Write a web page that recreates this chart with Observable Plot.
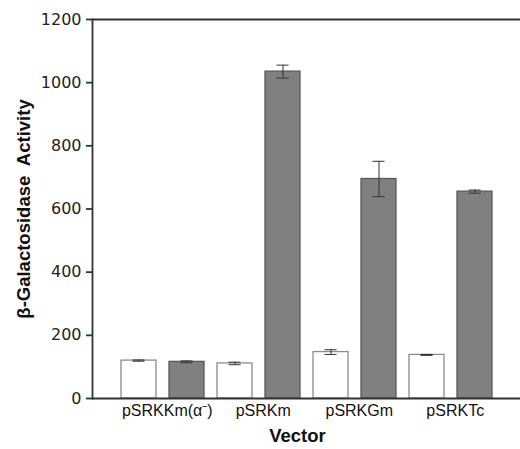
<!DOCTYPE html>
<html>
<head>
<meta charset="utf-8">
<script src="https://cdn.jsdelivr.net/npm/d3@7"></script>
<script src="https://cdn.jsdelivr.net/npm/@observablehq/plot@0.6"></script>
<style>
  html, body { margin: 0; padding: 0; background: #fff; }
  #chart svg { display: block; }
</style>
</head>
<body>
<div id="chart"></div>
<script>
// ---- data ----
const vectors = ["pSRKKm(α⁻)", "pSRKm", "pSRKGm", "pSRKTc"];
const seriesNames = ["open", "shaded"];
const openValues = [120, 111, 147, 138];
const openErrors = [2, 4, 7.5, 1.5];
const shadedValues = [116, 1035, 695, 655];
const shadedErrors = [3, 20.5, 56, 5];
const yTicks = [0, 200, 400, 600, 800, 1000, 1200];
const xTitle = "Vector";
const yTitle = "β-Galactosidase  Activity";

// ---- build table ----
const rows = [];
vectors.forEach((v, i) => {
  rows.push({vector: v, series: seriesNames[0], key: v + "|" + seriesNames[0], value: openValues[i], err: openErrors[i]});
  rows.push({vector: v, series: seriesNames[1], key: v + "|" + seriesNames[1], value: shadedValues[i], err: shadedErrors[i]});
});
const keys = rows.map(d => d.key);
const firstKeys = vectors.map(v => v + "|" + seriesNames[0]);

const W = 520, H = 449;
const mL = 92, mR = 0, mT = 19, mB = 51;
const pInner = 0.28, pOuter = 0.55;
const step = (W - mL - mR) / (keys.length - pInner + 2 * pOuter);
const bw = step * (1 - pInner);
const capInset = (bw - 12) / 2;

const chart = Plot.plot({
  width: W,
  height: H,
  marginLeft: mL,
  marginRight: mR,
  marginTop: mT,
  marginBottom: mB,
  style: {fontFamily: "'DejaVu Sans', sans-serif", fontSize: "15px", color: "#222", background: "#fff"},
  x: {domain: keys, paddingInner: pInner, paddingOuter: pOuter, axis: null},
  y: {domain: [0, 1200], axis: null},
  marks: [
    Plot.barY(rows, {
      x: "key", y: "value",
      fill: d => d.series === seriesNames[0] ? "#ffffff" : "#808080",
      stroke: d => d.series === seriesNames[0] ? "#8c8c8c" : "#5a5a5a",
      strokeWidth: 1.3
    }),
    Plot.ruleX(rows, {x: "key", y1: d => d.value - d.err, y2: d => d.value + d.err, stroke: "#333", strokeWidth: 1}),
    Plot.tickY(rows, {x: "key", y: d => d.value + d.err, stroke: "#333", strokeWidth: 1, insetLeft: capInset, insetRight: capInset}),
    Plot.tickY(rows, {x: "key", y: d => d.value - d.err, stroke: "#333", strokeWidth: 1, insetLeft: capInset, insetRight: capInset}),
    Plot.ruleY([0, 1200], {stroke: "#333", strokeWidth: 1.8}),
    Plot.frame({anchor: "left", stroke: "#333", strokeWidth: 1.8}),
    Plot.axisY({ticks: yTicks, tickFormat: d3.format("d"), tickSize: 6, tickPadding: 5, label: null, stroke: "#333", strokeWidth: 1.8, fontSize: 16, fill: "#222"}),
    Plot.text(firstKeys, {
      x: d => d, text: d => d.split("|")[0],
      frameAnchor: "bottom", dy: 17, dx: step / 2 + 4,
      fontFamily: "'Liberation Sans', Arial, sans-serif", fontSize: 16, fill: "#111"
    }),
    Plot.text([xTitle], {
      text: d => d, frameAnchor: "bottom", dx: -9, dy: 43,
      fontFamily: "'Liberation Sans', Arial, sans-serif", fontSize: 18.5, fontWeight: "bold", fill: "#111"
    }),
    Plot.text([yTitle], {
      text: d => d, frameAnchor: "left", rotate: -90, dx: -68, textAnchor: "middle",
      fontFamily: "'Liberation Sans', Arial, sans-serif", fontSize: 18.5, fontWeight: "bold", fill: "#111"
    })
  ]
});
document.getElementById("chart").appendChild(chart);
</script>
</body>
</html>
